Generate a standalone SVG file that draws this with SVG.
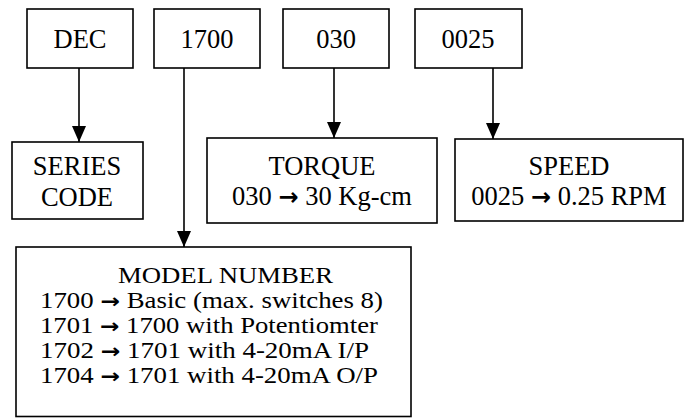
<svg xmlns="http://www.w3.org/2000/svg" width="688" height="418" viewBox="0 0 688 418">
<style>
.box{fill:#fff;stroke:#000;stroke-width:1.6}
.t{font-family:"Liberation Serif","Times New Roman",serif;font-size:26.5px;fill:#000}
.m{font-size:23px}
.c{text-anchor:middle}
.a{font-family:"DejaVu Sans",sans-serif;font-size:24px;font-weight:bold}
.m .a{font-size:20px}
.ln{stroke:#000;stroke-width:1.6;fill:none}
</style>
<defs>
<marker id="ah" viewBox="0 0 16 14" refX="16" refY="7" markerWidth="16" markerHeight="14" markerUnits="userSpaceOnUse" orient="auto">
<path d="M0,0 L16,7 L0,14 Z" fill="#000"/>
</marker>
</defs>
<rect width="688" height="418" fill="#fff"/>
<g id="connectors">
<line class="ln" x1="79" y1="68" x2="79" y2="142" marker-end="url(#ah)"/>
<line class="ln" x1="184" y1="68" x2="184" y2="247" marker-end="url(#ah)"/>
<line class="ln" x1="334" y1="68" x2="334" y2="138" marker-end="url(#ah)"/>
<line class="ln" x1="493" y1="68" x2="493" y2="139" marker-end="url(#ah)"/>
</g>
<g id="dec"><rect class="box" x="27" y="9" width="106" height="59"/><text class="t c" x="80" y="48">DEC</text></g>
<g id="n1700"><rect class="box" x="154" y="9" width="106" height="59"/><text class="t c" x="207" y="48">1700</text></g>
<g id="n030"><rect class="box" x="283" y="9" width="106" height="59"/><text class="t c" x="336" y="48">030</text></g>
<g id="n0025"><rect class="box" x="415" y="9" width="107" height="59"/><text class="t c" x="468" y="48">0025</text></g>
<g id="series"><rect class="box" x="12" y="142" width="131" height="77"/><text class="t c" x="77" y="175">SERIES</text><text class="t c" x="77" y="206">CODE</text></g>
<g id="torque"><rect class="box" x="207" y="138" width="230" height="85"/><text class="t c" x="322" y="175">TORQUE</text><text class="t c" x="322" y="205">030 <tspan class="a">→</tspan> 30 Kg-cm</text></g>
<g id="speed"><rect class="box" x="455" y="139" width="228" height="82"/><text class="t c" x="569" y="175">SPEED</text><text class="t c" x="569" y="205">0025 <tspan class="a">→</tspan> 0.25 RPM</text></g>
<g id="model"><rect class="box" x="16" y="247" width="395" height="169.5"/>
<text class="t m" x="118" y="283" textLength="215" lengthAdjust="spacingAndGlyphs">MODEL NUMBER</text>
<text class="t m" x="40" y="308" textLength="343" lengthAdjust="spacingAndGlyphs">1700 <tspan class="a">→</tspan> Basic (max. switches 8)</text>
<text class="t m" x="40" y="333" textLength="338" lengthAdjust="spacingAndGlyphs">1701 <tspan class="a">→</tspan> 1700 with Potentiomter</text>
<text class="t m" x="40" y="358" textLength="329" lengthAdjust="spacingAndGlyphs">1702 <tspan class="a">→</tspan> 1701 with 4-20mA I/P</text>
<text class="t m" x="40" y="383" textLength="338" lengthAdjust="spacingAndGlyphs">1704 <tspan class="a">→</tspan> 1701 with 4-20mA O/P</text>
</g>
</svg>
